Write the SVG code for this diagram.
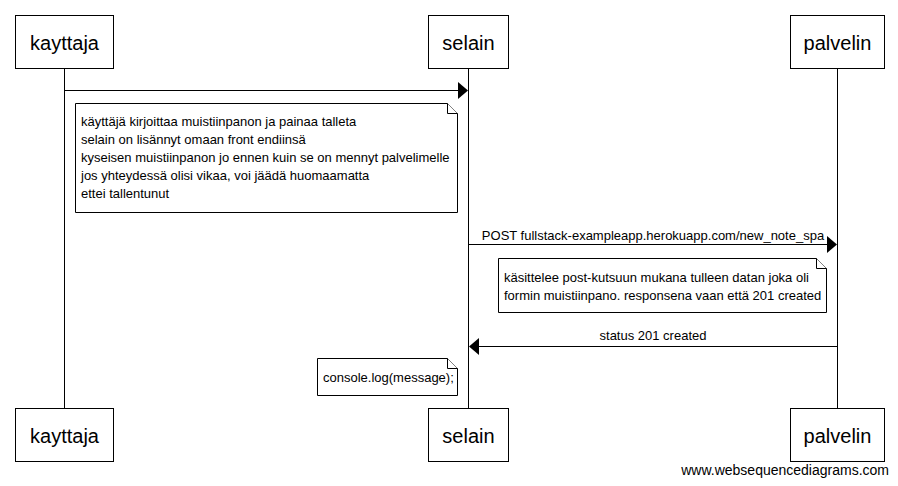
<svg xmlns="http://www.w3.org/2000/svg" width="898" height="486" viewBox="0 0 898 486">
<style>
.box{fill:#fff;stroke:#000;stroke-width:1}
.life{stroke:#000;stroke-width:1}
.msg{stroke:#000;stroke-width:1;fill:none}
.head{fill:#000}
.note{fill:#fff;stroke:#000;stroke-width:1}
.actor{font-family:"Liberation Sans",Arial,sans-serif;font-size:20px;fill:#000;text-anchor:middle}
.t{font-family:"Liberation Sans",Arial,sans-serif;font-size:13px;fill:#000}
</style>
<rect width="898" height="486" fill="#fff"/>
<g id="lifelines">
<line class="life" x1="64.5" y1="68" x2="64.5" y2="408"/>
<line class="life" x1="468.5" y1="68" x2="468.5" y2="408"/>
<line class="life" x1="837.5" y1="68" x2="837.5" y2="408"/>
</g>
<g id="kayttaja">
<rect class="box" x="15.5" y="15.5" width="98" height="53"/>
<text class="actor" x="64.5" y="50">kayttaja</text>
<rect class="box" x="15.5" y="408.5" width="98" height="53"/>
<text class="actor" x="64.5" y="443">kayttaja</text>
</g>
<g id="selain">
<rect class="box" x="428.5" y="15.5" width="80" height="53"/>
<text class="actor" x="468.5" y="50">selain</text>
<rect class="box" x="428.5" y="408.5" width="80" height="53"/>
<text class="actor" x="468.5" y="443">selain</text>
</g>
<g id="palvelin">
<rect class="box" x="790.5" y="15.5" width="94" height="53"/>
<text class="actor" x="837.5" y="50">palvelin</text>
<rect class="box" x="790.5" y="408.5" width="94" height="53"/>
<text class="actor" x="837.5" y="443">palvelin</text>
</g>
<g id="connectors">
<line class="msg" x1="65" y1="90.5" x2="460" y2="90.5"/>
<polygon class="head" points="458,82 468,90.5 458,99"/>
<line class="msg" x1="469" y1="244.5" x2="829" y2="244.5"/>
<polygon class="head" points="827,236 837,244.5 827,253"/>
<text class="t" x="653" y="240" text-anchor="middle">POST fullstack-exampleapp.herokuapp.com/new_note_spa</text>
<line class="msg" x1="837" y1="346.5" x2="477" y2="346.5"/>
<polygon class="head" points="479,338 469,346.5 479,355"/>
<text class="t" x="653" y="340" text-anchor="middle">status 201 created</text>
</g>
<g id="note1">
<path class="note" d="M75.5,103.5 H447.5 L457.5,113.5 V212.5 H75.5 Z"/>
<path class="note" d="M447.5,103.5 V113.5 H457.5" fill="none"/>
<text class="t" x="81" y="126">käyttäjä kirjoittaa muistiinpanon ja painaa talleta</text>
<text class="t" x="81" y="144">selain on lisännyt omaan front endiinsä</text>
<text class="t" x="81" y="162">kyseisen muistiinpanon jo ennen kuin se on mennyt palvelimelle</text>
<text class="t" x="81" y="180">jos yhteydessä olisi vikaa, voi jäädä huomaamatta</text>
<text class="t" x="81" y="198">ettei tallentunut</text>
</g>
<g id="note2">
<path class="note" d="M498.5,258.5 H816.5 L826.5,268.5 V312.5 H498.5 Z"/>
<path class="note" d="M816.5,258.5 V268.5 H826.5" fill="none"/>
<text class="t" x="504" y="282">käsittelee post-kutsuun mukana tulleen datan joka oli</text>
<text class="t" x="504" y="300">formin muistiinpano. responsena vaan että 201 created</text>
</g>
<g id="note3">
<path class="note" d="M317.5,358.5 H447.5 L457.5,368.5 V395.5 H317.5 Z"/>
<path class="note" d="M447.5,358.5 V368.5 H457.5" fill="none"/>
<text class="t" x="323" y="382">console.log(message);</text>
</g>
<text class="t" x="889" y="475" text-anchor="end" style="font-size:14px">www.websequencediagrams.com</text>
</svg>
